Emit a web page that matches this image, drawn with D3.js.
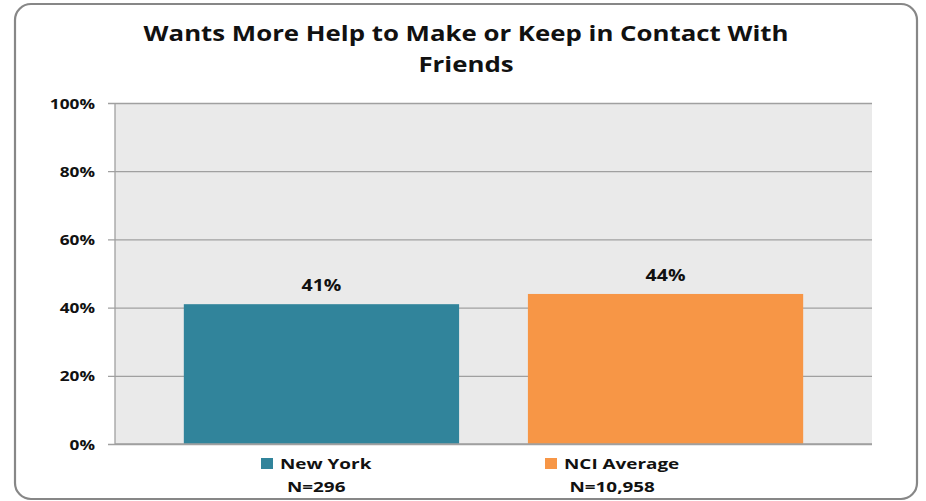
<!DOCTYPE html>
<html><head><meta charset="utf-8">
<script src="https://cdn.jsdelivr.net/npm/d3@7"></script>
<style>body{margin:0;background:#fff;}svg{display:block;}</style>
</head><body>
<svg id="c" width="926" height="501"></svg>
<script>
const titleLines = ["Wants More Help to Make or Keep in Contact With", "Friends"];
const seriesNames = ["New York", "NCI Average"];
const sampleSizes = ["N=296", "N=10,958"];
const values = [41, 44];
const valueLabels = ["41%", "44%"];
const colors = ["#31849B", "#F79646"];
const yTicks = [0, 20, 40, 60, 80, 100];

const svg = d3.select("#c");
const font = "'Open Sans', sans-serif";
const SX = 1.26; // horizontal stretch of the original picture

function stretchedText(parent, x, y, txt, size, anchor) {
  return parent.append("text")
    .attr("transform", `translate(${x},${y}) scale(${SX},1)`)
    .attr("text-anchor", anchor || "middle")
    .attr("font-family", font).attr("font-weight", "bold")
    .attr("font-size", size).attr("fill", "#111").text(txt);
}

svg.append("rect").attr("x", 15).attr("y", 4).attr("width", 902).attr("height", 495)
  .attr("rx", 16).attr("fill", "#fff").attr("stroke", "#878787").attr("stroke-width", 2.2);

const m = {l: 115, r: 872, t: 103, b: 444};
const y = d3.scaleLinear().domain([0, 100]).range([m.b, m.t]);
const x = d3.scaleBand().domain(seriesNames).range([m.l, m.r]).paddingInner(0.2).paddingOuter(0.2);

svg.append("rect").attr("x", m.l).attr("y", m.t).attr("width", m.r - m.l).attr("height", m.b - m.t).attr("fill", "#EAEAEA");

const yAxis = d3.axisLeft(y).tickValues(yTicks).tickFormat(d => d + "%").tickSize(-(m.r - m.l)).tickPadding(0);
const gy = svg.append("g").attr("transform", `translate(${m.l},0)`).call(yAxis);
gy.select(".domain").remove();
gy.selectAll(".tick line").attr("stroke", "#A0A0A0").attr("stroke-width", 1.3).attr("x1", -7);
gy.selectAll(".tick text")
  .attr("x", null).attr("dy", null)
  .attr("transform", `translate(-20,5) scale(1.28,1)`)
  .attr("font-family", font).attr("font-weight", "bold").attr("font-size", 13.5).attr("fill", "#111");
svg.append("line").attr("x1", m.l).attr("x2", m.l).attr("y1", m.t).attr("y2", m.b).attr("stroke", "#A0A0A0").attr("stroke-width", 1.3);

svg.selectAll(".bar").data(values).enter().append("rect")
  .attr("x", (d, i) => x(seriesNames[i])).attr("width", x.bandwidth())
  .attr("y", d => y(d)).attr("height", d => y(0) - y(d)).attr("fill", (d, i) => colors[i]);

svg.append("line").attr("x1", m.l).attr("x2", m.r).attr("y1", m.b).attr("y2", m.b).attr("stroke", "#A0A0A0").attr("stroke-width", 1.3);

values.forEach((d, i) => {
  stretchedText(svg, x(seriesNames[i]) + x.bandwidth() / 2, y(d) - 13, valueLabels[i], 15.5);
});

titleLines.forEach((t, i) => stretchedText(svg, 466, 41 + i * 31, t, 20.5));

const legStart = 261, legStep = 284;
seriesNames.forEach((name, i) => {
  const lx = legStart + i * legStep;
  svg.append("rect").attr("x", lx).attr("y", 458).attr("width", 12).attr("height", 11).attr("fill", colors[i]);
  const t = stretchedText(svg, lx + 19, 469, name, 15, "start");
  const w = t.node().getComputedTextLength() * SX;
  stretchedText(svg, lx + (19 + w) / 2, 492, sampleSizes[i], 15);
});
</script>
</body></html>
